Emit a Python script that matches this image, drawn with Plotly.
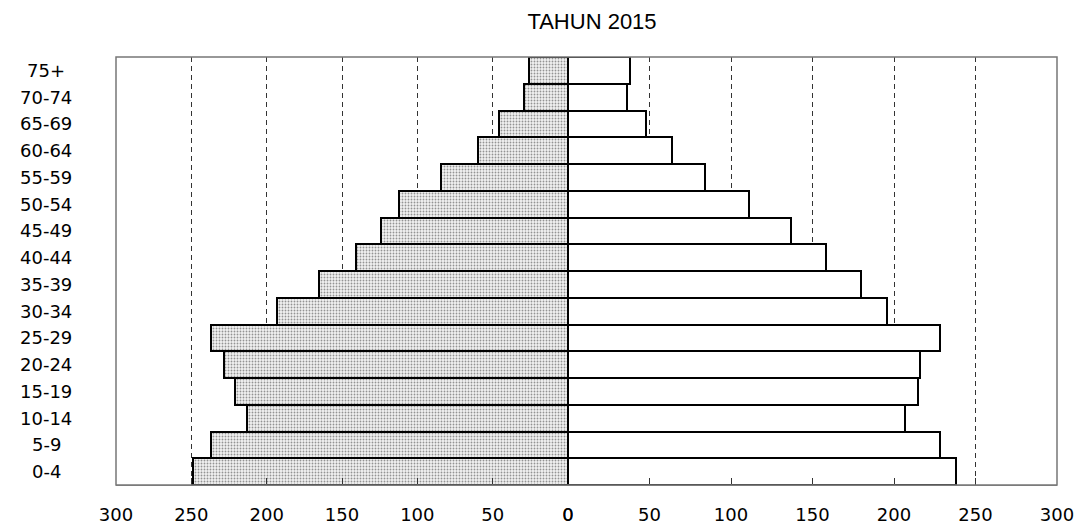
import plotly.graph_objects as go

age_groups = ["0-4", "5-9", "10-14", "15-19", "20-24", "25-29", "30-34", "35-39",
              "40-44", "45-49", "50-54", "55-59", "60-64", "65-69", "70-74", "75+"]
left_values = [249, 237, 213, 221, 228, 237, 193, 165, 141, 124, 112, 84, 60, 46, 29, 26]
right_values = [238, 228, 207, 215, 216, 228, 196, 180, 158, 137, 111, 84, 64, 48, 36, 38]
x_ticks = [0, 50, 100, 150, 200, 250, 300]
title_text = "TAHUN 2015"

# page has an 8px body margin; size the figure so it fits the 1086x532 window
OFF = 8
W, H = 1070, 516
L = 116 - OFF
T = 57 - OFF
R = W + OFF - 1057
B = H + OFF - 485
plot_w = W - L - R
split = (568 - 116) / plot_w

fig = go.Figure()
fig.add_trace(go.Bar(
    y=age_groups, x=left_values, orientation="h", xaxis="x", yaxis="y",
    marker=dict(color="#eeeeee", line=dict(color="black", width=2),
                pattern=dict(shape=".", fgcolor="#333333", bgcolor="#f2f2f2",
                             size=3, solidity=0.3)),
    showlegend=False,
))
fig.add_trace(go.Bar(
    y=age_groups, x=right_values, orientation="h", xaxis="x2", yaxis="y",
    marker=dict(color="white", line=dict(color="black", width=2)),
    showlegend=False,
))

axis_common = dict(
    tickmode="array", tickvals=x_ticks, ticktext=[str(v) for v in x_ticks],
    ticks="inside", ticklen=7, tickcolor="#333333", tickwidth=1,
    showgrid=True, gridcolor="#333333", griddash="5px,4px", gridwidth=1,
    zeroline=False, showline=True, linecolor="#888888", linewidth=1,
    tickfont=dict(family="DejaVu Sans", size=18, color="black"),
    ticklabelstandoff=13, fixedrange=True, automargin=False,
)
fig.update_layout(
    width=W, height=H, autosize=False,
    margin=dict(l=L, r=R, t=T, b=B, pad=0, autoexpand=False),
    paper_bgcolor="white", plot_bgcolor="white",
    bargap=0,
    xaxis=dict(domain=[0, split], range=[300, 0], anchor="y", **axis_common),
    xaxis2=dict(domain=[split, 1], range=[0, 300], anchor="y", **axis_common),
    yaxis=dict(domain=[0, 1], range=[-0.5, 15.5], showticklabels=False,
               showgrid=False, zeroline=False, showline=False, ticks="",
               automargin=False,
               categoryorder="array", categoryarray=age_groups),
    title=dict(text=title_text, x=(592 - OFF) / W, xanchor="center",
               y=1 - (21 - OFF) / H, yanchor="middle",
               font=dict(family="Liberation Sans, Arial", size=22, color="black")),
    shapes=[dict(type="rect", xref="paper", yref="paper", x0=0, x1=1, y0=0, y1=1,
                 line=dict(color="#777777", width=1.5), layer="above")],
)

for a in age_groups:
    fig.add_annotation(x=(46 - 116) / plot_w, xref="paper", y=a, yref="y",
                       text=a, showarrow=False, xanchor="center", yanchor="middle",
                       font=dict(family="DejaVu Sans", size=18, color="black"))

fig.write_html("out.html")
